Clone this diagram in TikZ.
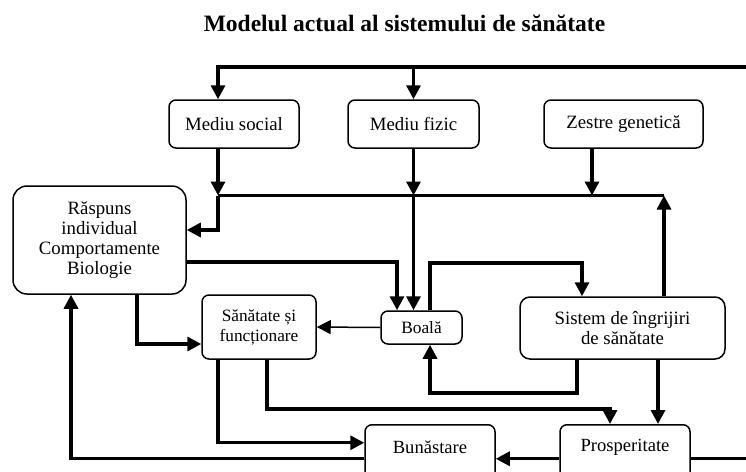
\documentclass[tikz,border=0pt]{standalone}
\usepackage{fontspec}
\setmainfont{Liberation Serif}
\usetikzlibrary{arrows.meta}
\begin{document}
\begin{tikzpicture}[x=1pt,y=-1pt,
  box/.style={draw, line width=1.5pt, rounded corners=7pt, align=center, inner sep=0pt, font=\fontsize{18.8}{20}\selectfont},
  smallbox/.style={box, font=\fontsize{17.3}{20}\selectfont},
  lbl/.style={font=\fontsize{18.6}{20}\selectfont, inner sep=0pt},
  con/.style={line width=3.2pt},
  thinline/.style={line width=1.5pt},
  arr/.style={-{Triangle[length=14pt,width=14pt]}}]
\useasboundingbox (0,0) rectangle (746,471);
\clip (0,0) rectangle (746,471);
\node[font=\fontsize{23.5}{26}\selectfont\bfseries, anchor=base, inner sep=0pt] (title) at (404.5,31.5) {Modelul actual al sistemului de sănătate};

\node[box, minimum width=130pt, minimum height=48pt] (ms) at (234,124) {Mediu social};
\node[box, minimum width=131pt, minimum height=48pt] (mf) at (413.5,124) {Mediu fizic};
\node[box, minimum width=159pt, minimum height=48pt] (zg) at (623.5,124) {Zestre genetică};
\node[box, rounded corners=14pt, minimum width=173pt, minimum height=108pt] (rasp) at (99.5,240) {Răspuns\\individual\\Comportamente\\Biologie};
\node[smallbox, minimum width=114pt, minimum height=64pt] (san) at (259,327) {Sănătate și\\funcționare};
\node[smallbox, minimum width=81pt, minimum height=33pt] (boala) at (421.5,327.5) {Boală};
\node[box, rounded corners=10pt, minimum width=205pt, minimum height=62pt] (sist) at (622.5,328) {Sistem de îngrijiri\\de sănătate};
\node[box, minimum width=130pt, minimum height=68pt, anchor=north] (bun) at (430,424) {};
\node[lbl] (buntxt) at (430,447) {Bunăstare};
\node[box, minimum width=130pt, minimum height=68pt, anchor=north] (pros) at (625,424) {};
\node[lbl] (prostxt) at (625,447) {Prosperitate};

\coordinate (topR) at (746,67);
\coordinate (hL) at (218,195.5);
\coordinate (hR) at (664,195.5);
\coordinate (b1) at (430,263);
\coordinate (b2) at (577,393);
\coordinate (s2) at (610,409);

% top loop
\draw[con,arr] (topR) -| ([xshift=-16pt]ms.north);
\draw[con,arr] (mf.north |- topR) -- (mf.north);
% horizontal collector line
\draw[con] (hL) -- (hR);
\draw[con,arr] ([xshift=-16pt]ms.south) -- (hL);
\draw[con,arr] (hL) |- ([yshift=10pt]rasp.east);
\draw[con,arr] (mf.south) -- (mf.south |- hL);
\draw[con,arr] (mf.south |- hL) -- (mf.south |- boala.north);
\draw[con,arr] ([xshift=-31.5pt]zg.south) -- ([xshift=-31.5pt]zg.south |- hL);
\draw[con,arr] ([xshift=41.5pt]sist.north) -- (hR);
% middle
\draw[con,arr] ([yshift=-22pt]rasp.east) -| ([xshift=-24.5pt]boala.north);
\draw[thinline,arr] (boala.west) -- (san.east);
\draw[con,arr] ([xshift=8.5pt]boala.north) -- (b1) -| ([xshift=-40.5pt]sist.north);
\draw[con,arr] ([xshift=-45.5pt]sist.south) -- (b2) -| ([xshift=8.5pt]boala.south);
\draw[con,arr] ([xshift=35.5pt]sist.south) -- ([xshift=35.5pt]sist.south |- pros.north);
\draw[con,arr] ([xshift=37.5pt]rasp.south) |- ([yshift=-17pt]san.west);
% bottom
\draw[con,arr] (pros.west) -- (bun.east);
\draw[con] (pros.east) -- (pros.east -| topR);
\draw[con,arr] (bun.west) -| ([xshift=-28.5pt]rasp.south);
\draw[con,arr] ([xshift=-41pt]san.south) |- ([yshift=16pt]bun.west);
\draw[con,arr] ([xshift=8pt]san.south) |- (s2) -- ([xshift=-15pt]pros.north);
\end{tikzpicture}
\end{document}
